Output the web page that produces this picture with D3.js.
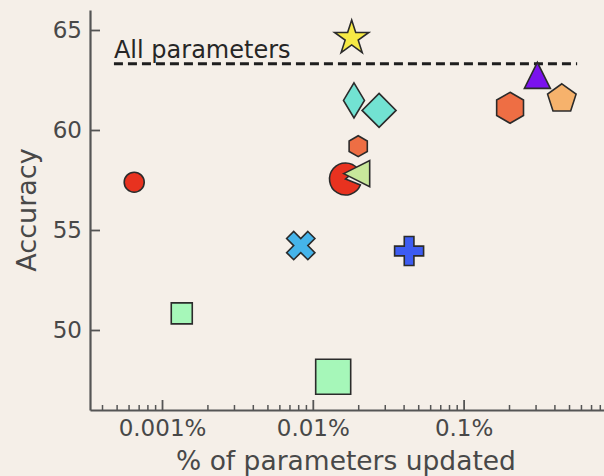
<!DOCTYPE html>
<html>
<head>
<meta charset="utf-8">
<script src="https://cdn.jsdelivr.net/npm/d3@7"></script>
<style>
  html, body { margin: 0; padding: 0; background: #f5efe8; }
  svg { display: block; }
  text { font-family: "DejaVu Sans", sans-serif; }
</style>
</head>
<body>
<svg id="chart" width="604" height="476"></svg>
<script>
// ---- data ----
const methods = ["M1", "M2", "M3", "M4", "M5", "M6", "M7", "M8", "M9", "M10", "M11", "M12", "M13", "M14"];
// share of parameters that are trained, in percent
const pctUpdated = [0.0181, 0.01875, 0.0275, 0.0200, 0.01648, 0.01954, 0.2033, 0.3084, 0.448, 0.00832, 0.0435, 0.000654, 0.001352, 0.01365];
const accuracy   = [64.6, 61.48, 60.98, 59.19, 57.55, 57.82, 61.11, 62.73, 61.56, 54.22, 53.95, 57.39, 50.83, 47.66];
// reference: training every parameter
const fullLabel = "All parameters";
const fullAccuracy = 63.31;
const fullSpan = [0.00048, 0.566];
// axes
const xTicks = [0.001, 0.01, 0.1];
const xTickLabels = ["0.001%", "0.01%", "0.1%"];
const yTicks = [50, 55, 60, 65];
const xTitle = "% of parameters updated";
const yTitle = "Accuracy";

// ---- marker styles (shape, fill, radius in px) per method ----
const markerStyle = {
  M1:  { shape: "star",         fill: "#f6ea45", r: 18 },
  M2:  { shape: "thinDiamond",  fill: "#72e2d2", r: 17.5 },
  M3:  { shape: "diamond",      fill: "#72e2d2", r: 17 },
  M4:  { shape: "hexagon",      fill: "#ee6e44", r: 10.5 },
  M5:  { shape: "pacman",       fill: "#e8321f", r: 16 },
  M6:  { shape: "triangleLeft", fill: "#c8e89b", r: 13 },
  M7:  { shape: "hexagon",      fill: "#ee6e44", r: 15.5 },
  M8:  { shape: "triangleUp",   fill: "#7a12ee", r: 13 },
  M9:  { shape: "pentagon",     fill: "#f6b26c", r: 15 },
  M10: { shape: "xFilled",      fill: "#45b4ea", r: 15 },
  M11: { shape: "plusFilled",   fill: "#3d5cf2", r: 14.5 },
  M12: { shape: "circle",       fill: "#e8321f", r: 10 },
  M13: { shape: "square",       fill: "#a6f7b9", r: 10.5 },
  M14: { shape: "square",       fill: "#a6f7b9", r: 17.5 }
};

// ---- custom d3.symbol types (size = radius^2) ----
function polygonType(unitPts) {
  return {
    draw(ctx, size) {
      const r = Math.sqrt(size);
      unitPts.forEach(([x, y], i) => i ? ctx.lineTo(x * r, y * r) : ctx.moveTo(x * r, y * r));
      ctx.closePath();
    }
  };
}
function regular(n, inner) {
  const pts = [];
  const step = Math.PI * 2 / n;
  for (let i = 0; i < n; i++) {
    const a = -Math.PI / 2 + i * step;
    pts.push([Math.cos(a), Math.sin(a)]);
    if (inner) {
      const b = a + step / 2;
      pts.push([inner * Math.cos(b), inner * Math.sin(b)]);
    }
  }
  return pts;
}
const plusPts = [[-1,-3],[1,-3],[1,-1],[3,-1],[3,1],[1,1],[1,3],[-1,3],[-1,1],[-3,1],[-3,-1],[-1,-1]].map(([x, y]) => [x / 3, y / 3]);
const c45 = Math.SQRT1_2;
const xPts = plusPts.map(([x, y]) => [(x - y) * c45, (x + y) * c45]);

const symbolTypes = {
  star: polygonType(regular(5, 0.381966)),
  thinDiamond: polygonType([[0, -1], [0.6, 0], [0, 1], [-0.6, 0]]),
  diamond: polygonType([[0, -1], [1, 0], [0, 1], [-1, 0]]),
  hexagon: polygonType(regular(6)),
  pentagon: polygonType(regular(5)),
  triangleUp: polygonType([[0, -1], [1, 1], [-1, 1]]),
  triangleLeft: polygonType([[-1, 0], [1, -1], [1, 1]]),
  square: polygonType([[-1, -1], [1, -1], [1, 1], [-1, 1]]),
  plusFilled: polygonType(plusPts),
  xFilled: polygonType(xPts),
  circle: {
    draw(ctx, size) {
      const r = Math.sqrt(size);
      ctx.moveTo(r, 0);
      ctx.arc(0, 0, r, 0, Math.PI * 2);
    }
  },
  pacman: {
    draw(ctx, size) {
      const r = Math.sqrt(size);
      const a0 = -40 * Math.PI / 180, a1 = 22 * Math.PI / 180;
      ctx.moveTo(0, 0);
      ctx.lineTo(r * Math.cos(a1), r * Math.sin(a1));
      ctx.arc(0, 0, r, a1, a0 + Math.PI * 2);
      ctx.closePath();
    }
  }
};

// ---- layout ----
const svg = d3.select("#chart");
const plot = { left: 90, right: 604, top: 10, bottom: 410 };

const x = d3.scaleLog()
  .domain([0.000333, 0.853])
  .range([plot.left, plot.right]);
const y = d3.scaleLinear()
  .domain([46, 66])
  .range([plot.bottom, plot.top]);

const axisColor = "#555555";
const textColor = "#484848";

// minor x ticks (2..9 within each decade)
const minorTicks = x.ticks(40).filter(v => !xTicks.some(t => Math.abs(t - v) / t < 1e-6));
const gMinor = svg.append("g")
  .attr("transform", `translate(0,${plot.bottom})`)
  .call(d3.axisBottom(x).tickValues(minorTicks).tickFormat("").tickSizeInner(-5).tickSizeOuter(0));
gMinor.select(".domain").remove();
gMinor.selectAll("line").attr("stroke", axisColor).attr("stroke-width", 1.5);

// major x axis
const gx = svg.append("g")
  .attr("transform", `translate(0,${plot.bottom})`)
  .call(d3.axisBottom(x)
    .tickValues(xTicks)
    .tickFormat((d, i) => xTickLabels[i])
    .tickSizeInner(-10).tickSizeOuter(0).tickPadding(10));
gx.select(".domain").attr("stroke", axisColor).attr("stroke-width", 2.2);
gx.selectAll("line").attr("stroke", axisColor).attr("stroke-width", 1.8);
gx.selectAll("text").attr("fill", textColor).style("font-size", "23px");

// y axis
const gy = svg.append("g")
  .attr("transform", `translate(${plot.left},0)`)
  .call(d3.axisLeft(y)
    .tickValues(yTicks)
    .tickSizeInner(-10).tickSizeOuter(0).tickPadding(8));
gy.select(".domain").attr("stroke", axisColor).attr("stroke-width", 2.2);
gy.selectAll("line").attr("stroke", axisColor).attr("stroke-width", 1.8);
gy.selectAll("text").attr("fill", textColor).style("font-size", "23px");

// axis titles
svg.append("text")
  .attr("x", 346).attr("y", 470)
  .attr("text-anchor", "middle")
  .attr("fill", textColor)
  .style("font-size", "26.5px")
  .text(xTitle);
svg.append("text")
  .attr("transform", `translate(36,${(plot.top + plot.bottom) / 2}) rotate(-90)`)
  .attr("text-anchor", "middle")
  .attr("fill", textColor)
  .style("font-size", "27px")
  .text(yTitle);

// full fine-tuning reference line
svg.append("line")
  .attr("x1", x(fullSpan[0])).attr("x2", x(fullSpan[1]))
  .attr("y1", y(fullAccuracy)).attr("y2", y(fullAccuracy))
  .attr("stroke", "#1e1e1e")
  .attr("stroke-width", 3)
  .attr("stroke-dasharray", "9 5");
svg.append("text")
  .attr("x", x(fullSpan[0]))
  .attr("y", y(fullAccuracy) - 6)
  .attr("fill", "#262626")
  .style("font-size", "24px")
  .text(fullLabel);

// markers
const points = methods.map((m, i) => ({ method: m, pct: pctUpdated[i], acc: accuracy[i] }));
const sym = d3.symbol();
svg.append("g")
  .selectAll("path")
  .data(points)
  .join("path")
  .attr("transform", d => `translate(${x(d.pct)},${y(d.acc)})`)
  .attr("d", d => {
    const s = markerStyle[d.method];
    return sym.type(symbolTypes[s.shape]).size(s.r * s.r)();
  })
  .attr("fill", d => markerStyle[d.method].fill)
  .attr("stroke", "#2b2b2b")
  .attr("stroke-width", 1.6)
  .attr("stroke-linejoin", "miter");
</script>
</body>
</html>
